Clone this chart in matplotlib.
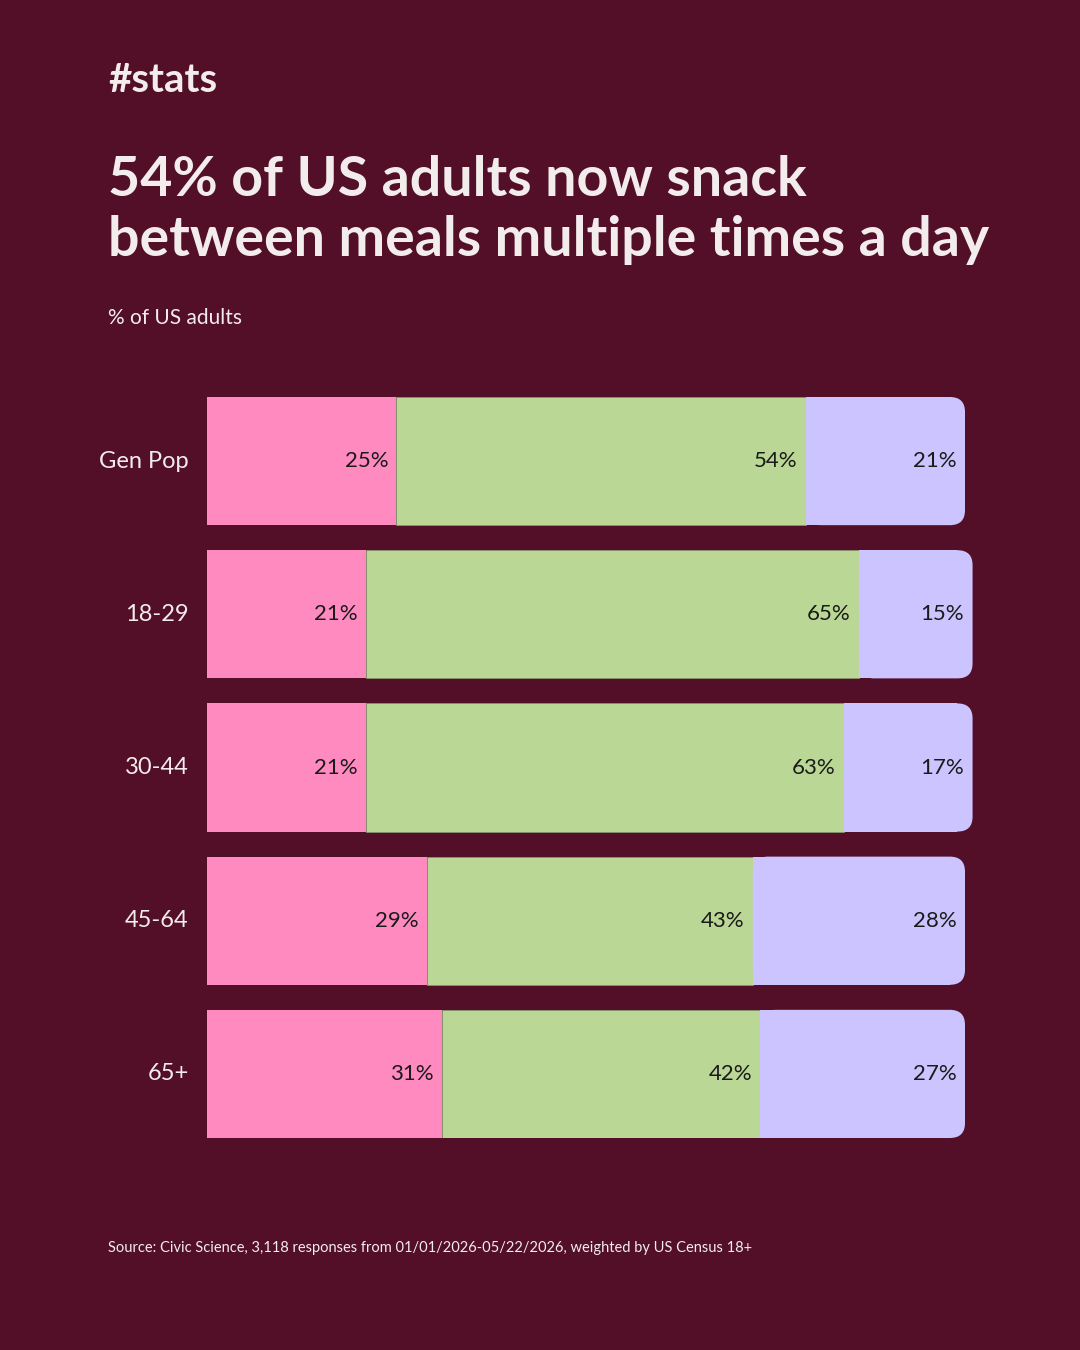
import matplotlib
matplotlib.use("Agg")
import matplotlib.pyplot as plt
from matplotlib.patches import FancyBboxPatch, Rectangle

plt.rcParams['font.family'] = ['Lato', 'DejaVu Sans']

groups = ['Gen Pop', '18-29', '30-44', '45-64', '65+']
seg_a = [25, 21, 21, 29, 31]
seg_b = [54, 65, 63, 43, 42]
seg_c = [21, 15, 17, 28, 27]

bg = '#520F27'
fg = '#F3ECEC'
c_a, c_b, c_c = '#FF8ABF', '#BBD795', '#CBC4FF'

fig = plt.figure(figsize=(10.8, 13.5), dpi=100)
fig.patch.set_facecolor(bg)

W, H = 1080, 1350
ax = fig.add_axes([207 / W, 1 - 1138 / H, 800 / W, 741 / H])
ax.set_facecolor(bg)
ax.set_xlim(0, 800 / 7.58)
h = 128 / 153
ax.set_ylim(len(groups) - 1 + h / 2, -h / 2)
ax.axis('off')

ax.barh(range(len(groups)), seg_a, height=h, color=c_a, linewidth=0)
ax.barh(range(len(groups)), seg_b, left=seg_a, height=h, color=c_b,
        edgecolor='#8a9a70', linewidth=0.5)
r = 2.0
for i, (a, b, c) in enumerate(zip(seg_a, seg_b, seg_c)):
    left = a + b
    # square left part, rounded right end
    ax.add_patch(FancyBboxPatch((left, i - h / 2), c, h,
                                boxstyle=f"round,pad=0,rounding_size={r}",
                                mutation_aspect=0.049, facecolor=c_c,
                                linewidth=0))
    ax.add_patch(Rectangle((left, i - h / 2), c - r, h, facecolor=c_c,
                           linewidth=0))
    for end, v in [(a, a), (a + b, b), (a + b + c, c)]:
        ax.text(end - 1.1, i, f"{v}%", ha='right', va='center',
                fontsize=16, color='#1a1a1a')
    ax.text(-2.4, i, groups[i], ha='right', va='center', fontsize=17,
            color=fg)

fig.text(108 / W, 1 - 80 / H, '#stats', fontsize=29, fontweight='bold',
         color=fg, va='center')
fig.text(108 / W, 1 - 210 / H,
         '54% of US adults now snack\nbetween meals multiple times a day',
         fontsize=40, fontweight='bold', color=fg, va='center',
         linespacing=1.22)
fig.text(108 / W, 1 - 318 / H, '% of US adults', fontsize=15, color=fg,
         va='center')
fig.text(108 / W, 1 - 1248 / H,
         'Source: Civic Science, 3,118 responses from 01/01/2026-05/22/2026, '
         'weighted by US Census 18+', fontsize=10.5, color=fg, va='center')

fig.savefig('out.png', dpi=100, facecolor=bg)
